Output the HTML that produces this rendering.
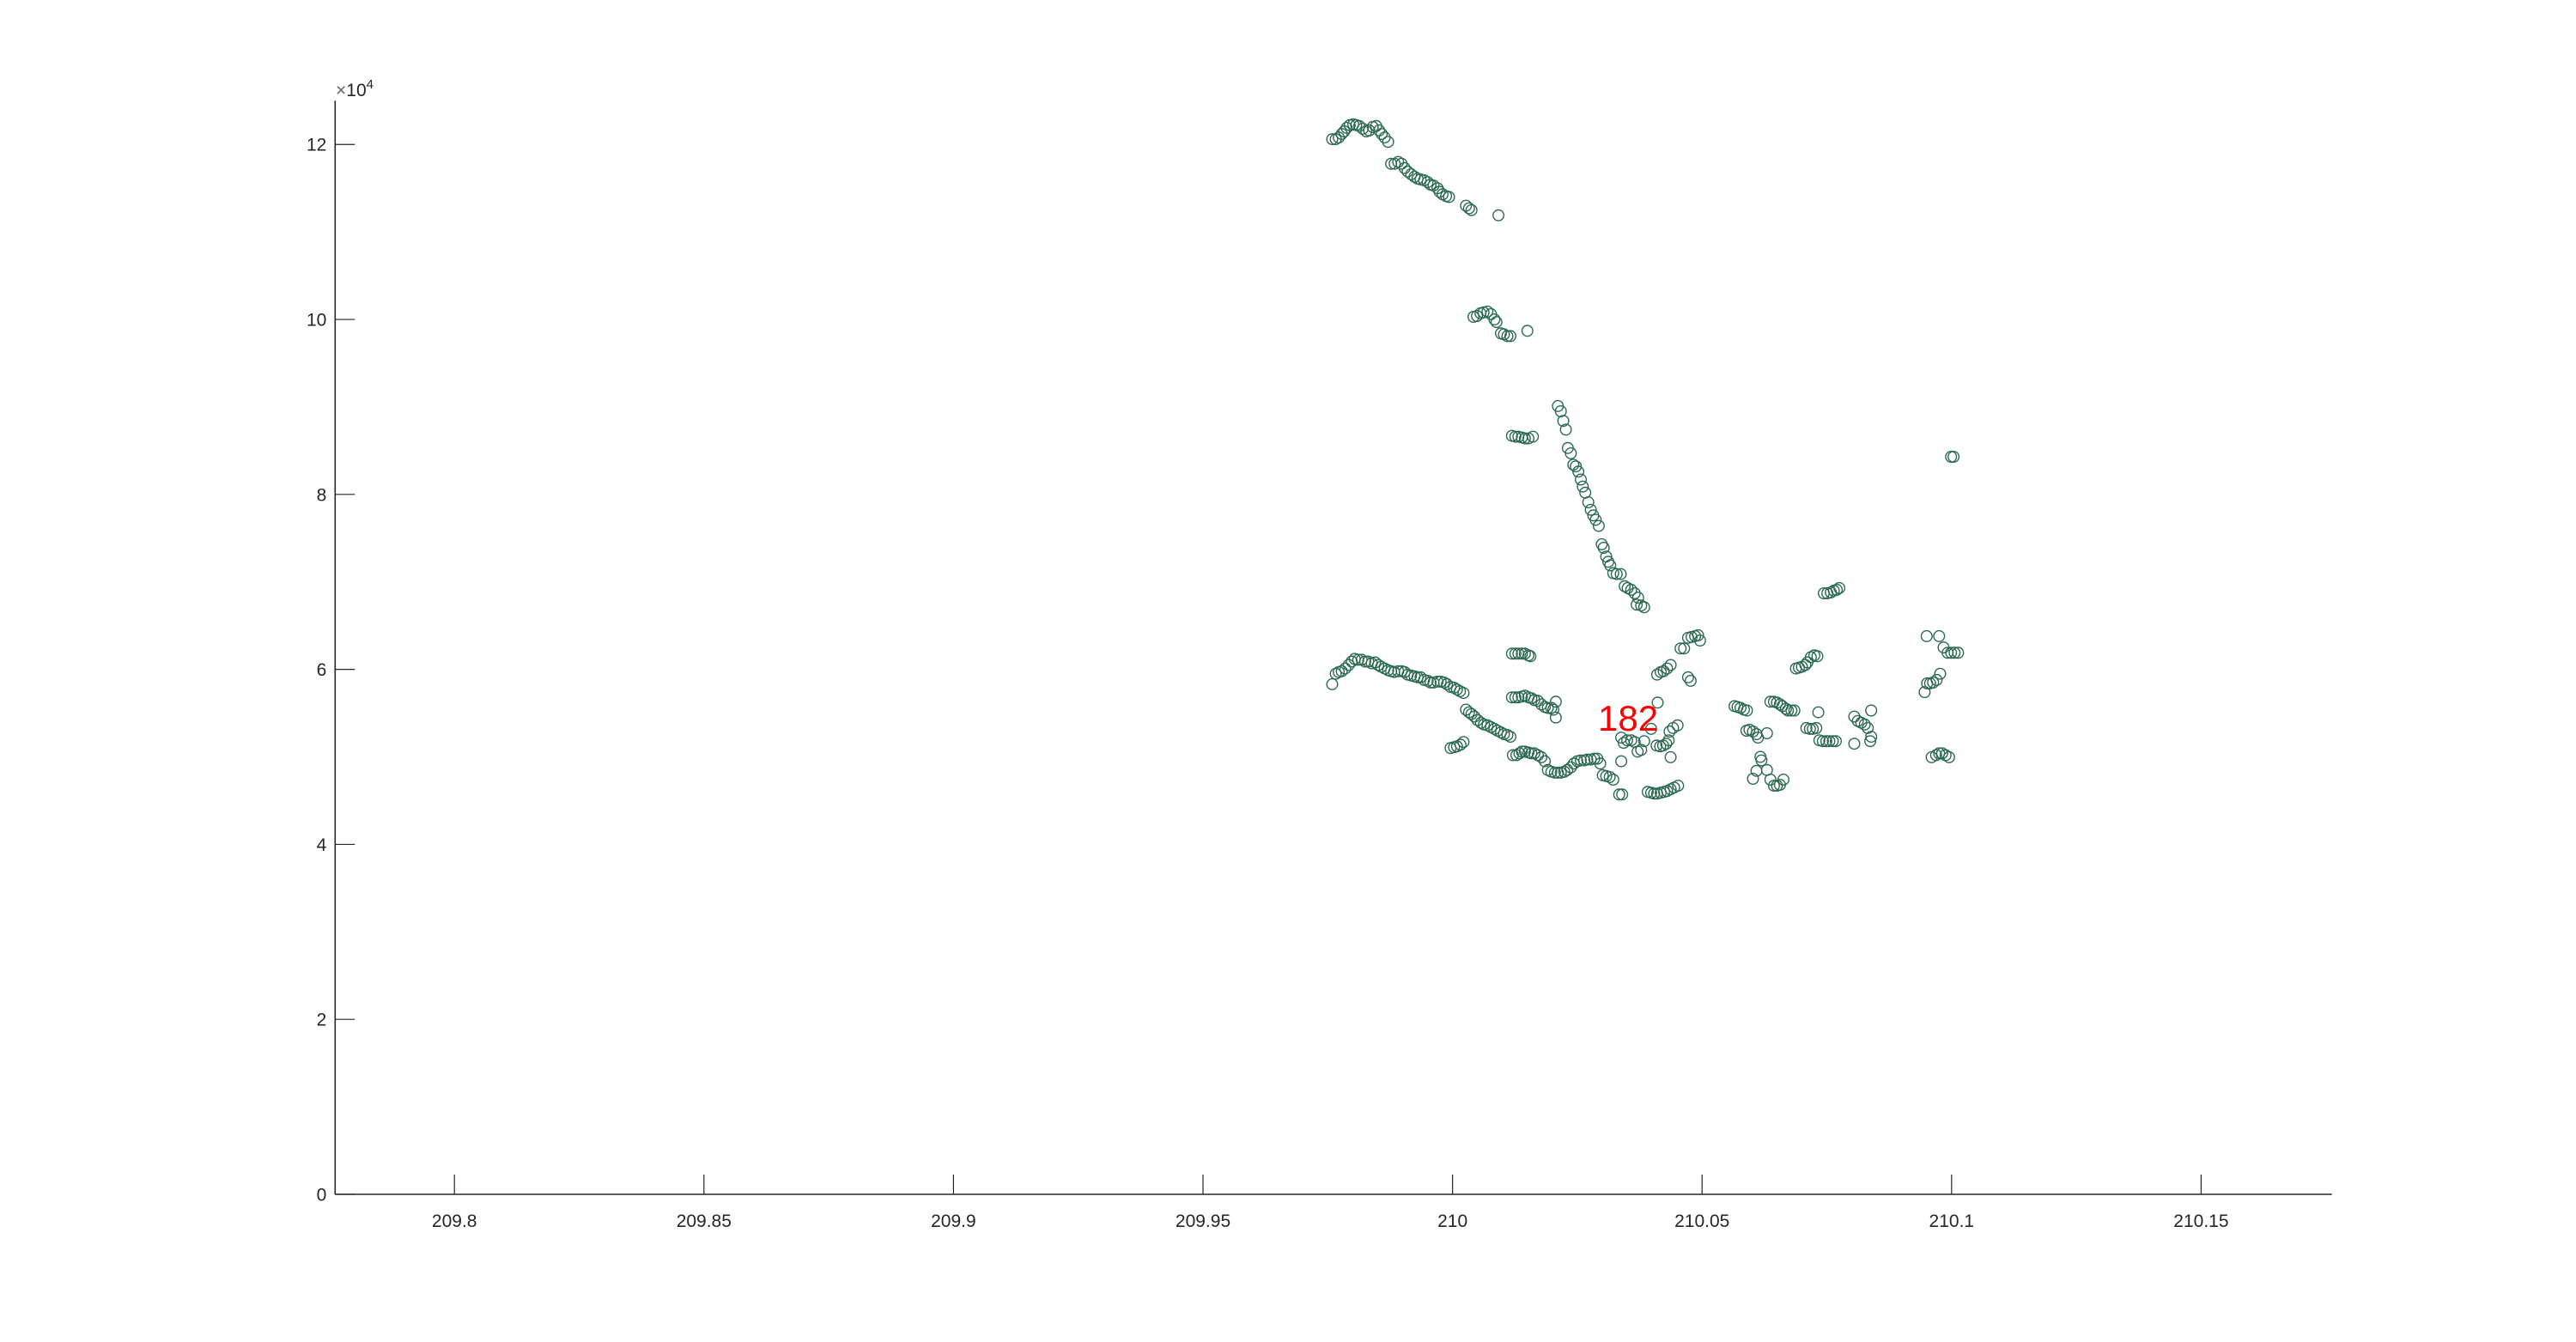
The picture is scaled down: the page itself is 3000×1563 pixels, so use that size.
<!DOCTYPE html>
<html><head><meta charset="utf-8"><style>
html,body{margin:0;padding:0;background:#fff;}
svg{display:block;font-family:"Liberation Sans",Arial,sans-serif;}
</style></head><body>
<svg id="chart" width="3000" height="1563" viewBox="0 0 3000 1563" xmlns="http://www.w3.org/2000/svg">
<rect x="0" y="0" width="3000" height="1563" fill="#fff"/>
<g id="marks"></g>
<g id="axes"></g>
<text x="1861" y="851" font-size="42" fill="#ff0000">182</text>
</svg>
<script>
const xTicks = [209.8, 209.85, 209.9, 209.95, 210, 210.05, 210.1, 210.15];
const xTickLabels = ["209.8","209.85","209.9","209.95","210","210.05","210.1","210.15"];
const yTicks = [0, 2, 4, 6, 8, 10, 12];
const yTickLabels = ["0","2","4","6","8","10","12"];
const xs = [
209.9759,209.9766,209.9772,209.9778,209.9783,209.9788,209.9794,209.9801,209.9807,209.9813,209.9820,209.9827,209.9833,209.9840,209.9847,209.9853,209.9858,209.9864,209.9871,
209.9877,209.9884,209.9891,209.9898,209.9904,209.9910,209.9917,209.9924,209.9930,209.9936,209.9943,209.9950,209.9956,209.9962,209.9970,209.9974,209.9980,209.9987,209.9993,
210.0027,210.0033,210.0038,210.0092,
210.0042,210.0049,210.0056,210.0062,210.0070,210.0077,210.0084,210.0088,210.0097,210.0103,210.0110,210.0116,210.0150,
210.0119,210.0126,210.0132,210.0139,210.0145,210.0152,210.0161,
210.0211,210.0217,210.0222,210.0227,210.0231,210.0237,210.0242,210.0247,210.0252,210.0257,210.0261,210.0266,210.0272,210.0277,210.0282,210.0287,210.0293,210.0299,210.0303,210.0308,210.0312,210.0316,210.0322,210.0329,210.0337,210.0345,210.0351,210.0358,210.0365,210.0372,210.0369,210.0378,210.0384,
209.9759,209.9766,209.9772,209.9778,209.9785,209.9792,209.9798,209.9804,209.9811,209.9818,209.9825,209.9831,209.9838,209.9845,209.9851,209.9857,209.9864,209.9871,209.9877,209.9883,209.9891,209.9898,209.9904,209.9910,209.9917,209.9924,209.9930,209.9936,209.9943,209.9950,209.9956,209.9962,209.9970,209.9976,209.9983,209.9989,209.9996,210.0003,210.0009,210.0015,210.0022,
210.0027,210.0033,210.0038,210.0044,210.0050,210.0057,210.0063,210.0070,210.0077,210.0084,210.0090,210.0097,210.0103,210.0110,210.0116,
209.9996,210.0003,210.0009,210.0016,210.0022,
210.0119,210.0126,210.0132,210.0139,210.0145,210.0152,210.0156,
210.0119,210.0126,210.0132,210.0139,210.0145,210.0152,210.0158,210.0164,210.0171,210.0178,210.0185,210.0191,210.0198,210.0202,210.0207,210.0207,
210.0121,210.0128,210.0134,210.0139,210.0145,210.0152,210.0158,210.0164,210.0171,210.0178,210.0185,210.0191,210.0198,210.0205,210.0211,210.0217,210.0224,210.0230,210.0237,210.0243,210.0250,210.0257,210.0264,210.0270,210.0277,210.0284,210.0290,210.0296,210.0301,210.0308,210.0315,210.0322,210.0334,210.0340,
210.0338,210.0338,210.0343,210.0350,210.0358,210.0365,210.0371,210.0378,210.0384,210.0398,210.0411,210.0409,210.0416,210.0422,210.0428,210.0433,210.0437,210.0435,210.0442,210.0451,
210.0391,210.0398,210.0404,210.0410,210.0417,210.0424,210.0430,210.0437,210.0444,210.0452,
210.0410,210.0417,210.0423,210.0430,210.0437,210.0457,210.0464,210.0472,210.0479,210.0486,210.0492,210.0496,210.0472,210.0477,
210.0565,210.0571,210.0577,210.0584,210.0590,210.0589,210.0595,210.0602,210.0609,210.0612,210.0630,210.0617,210.0619,210.0609,210.0602,210.0630,210.0637,210.0644,210.0650,210.0656,210.0663,
210.0637,210.0644,210.0650,210.0656,210.0661,210.0668,210.0672,210.0679,210.0685,210.0733,
210.0688,210.0694,210.0700,210.0707,210.0711,210.0718,210.0725,210.0731,
210.0709,210.0716,210.0722,210.0729,210.0735,210.0742,210.0749,210.0755,210.0762,210.0768,
210.0744,210.0751,210.0758,210.0764,210.0770,210.0775,
210.0805,210.0812,210.0819,210.0826,210.0832,210.0839,210.0839,210.0837,210.0805,
210.0950,210.0975,210.0984,210.0992,210.0999,210.1006,210.1013,210.0946,210.0951,210.0957,210.0963,210.0970,210.0977,210.0960,210.0969,210.0975,210.0981,210.0988,210.0995,210.1004,210.0999
];
const ys = [
12.06,12.06,12.08,12.12,12.15,12.19,12.22,12.23,12.22,12.21,12.18,12.15,12.16,12.20,12.21,12.16,12.12,12.08,12.03,
11.78,11.78,11.80,11.78,11.73,11.69,11.66,11.63,11.61,11.60,11.59,11.57,11.54,11.53,11.50,11.46,11.43,11.41,11.40,
11.30,11.27,11.25,11.19,
10.03,10.04,10.07,10.08,10.09,10.06,10.00,9.97,9.84,9.83,9.81,9.81,9.87,
8.67,8.66,8.66,8.65,8.64,8.64,8.66,
9.01,8.95,8.84,8.74,8.53,8.47,8.34,8.32,8.26,8.17,8.09,8.02,7.91,7.825,7.76,7.71,7.64,7.43,7.39,7.29,7.23,7.19,7.10,7.09,7.09,6.95,6.93,6.91,6.87,6.82,6.74,6.73,6.71,
5.83,5.95,5.97,5.98,6.01,6.05,6.09,6.12,6.11,6.11,6.09,6.09,6.07,6.08,6.05,6.03,6.01,5.99,5.98,5.97,5.98,5.98,5.97,5.94,5.93,5.92,5.91,5.91,5.88,5.87,5.85,5.85,5.86,5.86,5.85,5.83,5.80,5.79,5.77,5.75,5.73,
5.54,5.51,5.49,5.46,5.42,5.39,5.37,5.36,5.34,5.32,5.30,5.28,5.26,5.25,5.23,
5.10,5.11,5.12,5.14,5.17,
6.18,6.18,6.18,6.18,6.18,6.16,6.15,
5.68,5.68,5.68,5.69,5.70,5.68,5.67,5.65,5.64,5.60,5.57,5.56,5.56,5.54,5.63,5.45,
5.02,5.02,5.04,5.06,5.06,5.05,5.04,5.04,5.02,4.996,4.95,4.85,4.83,4.82,4.82,4.82,4.83,4.85,4.88,4.924,4.95,4.96,4.96,4.97,4.97,4.98,4.98,4.924,4.79,4.78,4.77,4.74,4.57,4.57,
4.95,5.22,5.16,5.19,5.19,5.17,5.06,5.08,5.18,5.32,5.62,5.13,5.12,5.13,5.15,5.19,4.996,5.29,5.33,5.36,
4.60,4.59,4.58,4.58,4.59,4.60,4.61,4.63,4.65,4.67,
5.94,5.97,5.98,6.01,6.05,6.24,6.24,6.36,6.37,6.38,6.39,6.33,5.91,5.87,
5.58,5.57,5.56,5.54,5.53,5.30,5.31,5.29,5.26,5.22,5.27,5.00,4.96,4.84,4.75,4.85,4.74,4.67,4.67,4.68,4.74,
5.63,5.63,5.62,5.60,5.58,5.55,5.53,5.53,5.53,5.51,
6.01,6.02,6.03,6.05,6.08,6.14,6.16,6.15,
5.33,5.32,5.32,5.33,5.19,5.18,5.18,5.18,5.18,5.18,
6.87,6.87,6.88,6.90,6.91,6.93,
5.46,5.41,5.39,5.37,5.33,5.53,5.23,5.18,5.15,
6.38,6.38,6.25,6.19,6.19,6.19,6.19,5.74,5.84,5.84,5.85,5.88,5.95,4.996,5.02,5.04,5.04,5.02,4.996,8.43,8.43
];
const xMin = 209.7761, xMax = 210.1762, yMin = 0, yMax = 12.5;
const L = 390.3, R = 2715.7, B = 1391, T = 117.3;
const NS = "http://www.w3.org/2000/svg";
function sx(v){ return L + (v - xMin) / (xMax - xMin) * (R - L); }
function sy(v){ return B - (v - yMin) / (yMax - yMin) * (B - T); }
function mk(tag, attrs){ const e = document.createElementNS(NS, tag); for (const k in attrs) e.setAttribute(k, attrs[k]); return e; }
const marks = document.getElementById('marks');
const axes = document.getElementById('axes');
const n = Math.min(xs.length, ys.length);
for (let i = 0; i < n; i++) {
  const c = mk('circle', {cx: sx(xs[i]).toFixed(1), cy: sy(ys[i]).toFixed(1), r: 6.3, fill: 'none', stroke: '#2b6a50', 'stroke-width': 1.4});
  
  
  marks.appendChild(c);
}
const xl = mk('line', {x1: L, y1: B, x2: R, y2: B, stroke: '#262626', 'stroke-width': 1.6});


axes.appendChild(xl);
const yl = mk('line', {x1: L, y1: B, x2: L, y2: T, stroke: '#262626', 'stroke-width': 1.6});


axes.appendChild(yl);
xTicks.forEach((v, i) => {
  const x = sx(v);
  const t = mk('line', {x1: x, y1: B, x2: x, y2: B - 23, stroke: '#262626', 'stroke-width': 1.2});
  
  
  axes.appendChild(t);
  const lb = mk('text', {x: x, y: B + 38, 'font-size': 21, fill: '#262626', 'text-anchor': 'middle'});
  lb.textContent = xTickLabels[i];
  
  
  axes.appendChild(lb);
});
yTicks.forEach((v, i) => {
  const y = sy(v);
  const t = mk('line', {x1: L, y1: y, x2: L + 23, y2: y, stroke: '#262626', 'stroke-width': 1.2});
  
  
  axes.appendChild(t);
  const lb = mk('text', {x: L - 10, y: y + 7.5, 'font-size': 21, fill: '#262626', 'text-anchor': 'end'});
  lb.textContent = yTickLabels[i];
  
  
  axes.appendChild(lb);
});
const ex = mk('text', {x: 391, y: 112, 'font-size': 21, fill: '#262626'});


ex.innerHTML = '<tspan fill="#666">×</tspan>10<tspan font-size="15" dy="-9">4</tspan>';
axes.appendChild(ex);
</script>
</body></html>
